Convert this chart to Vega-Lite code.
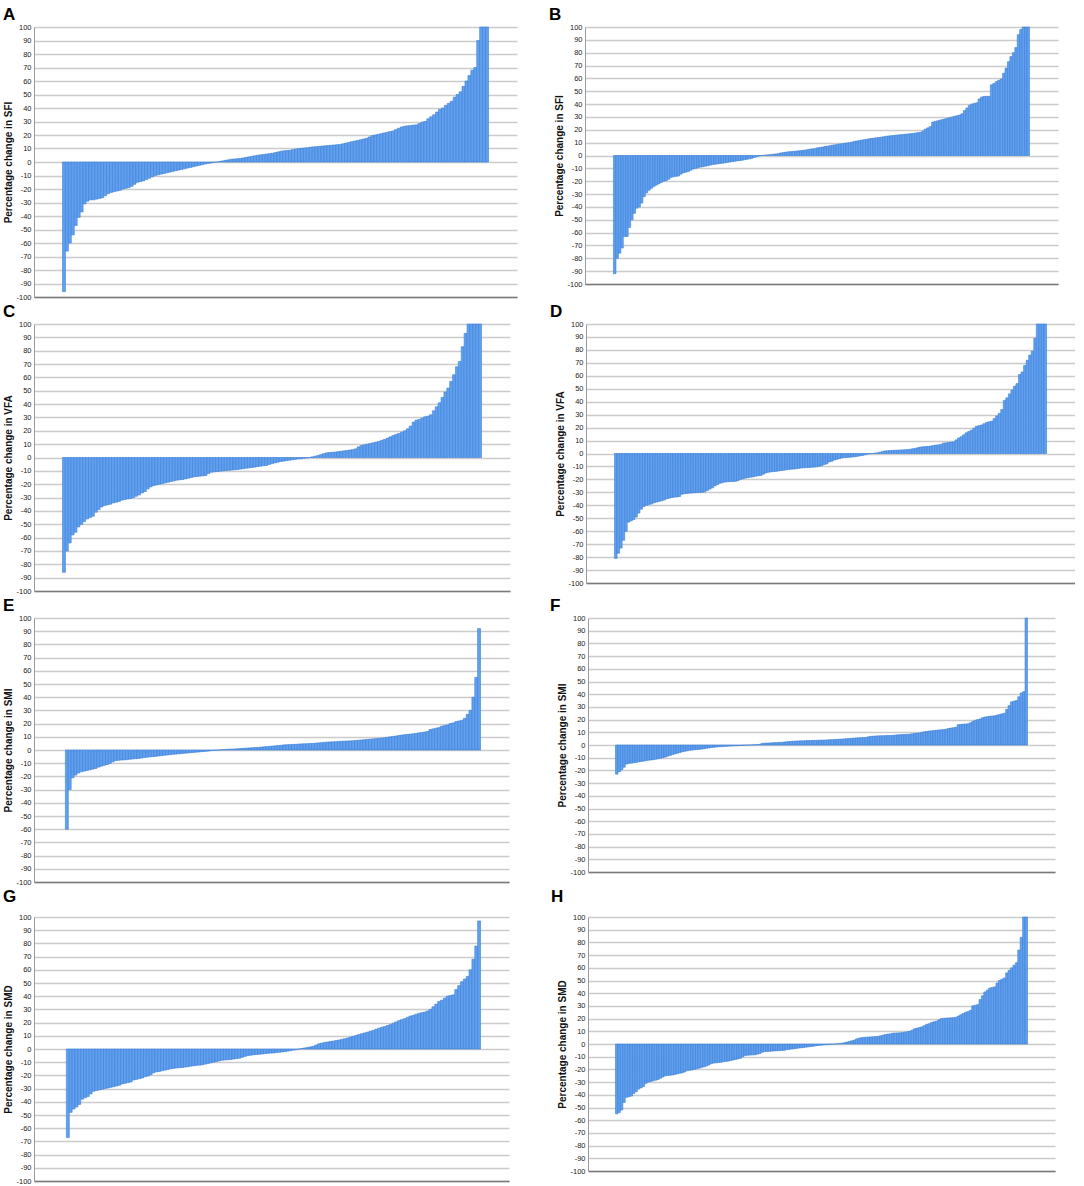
{
  "$schema": "https://vega.github.io/schema/vega-lite/v6.json",
  "padding": {"left": 3, "top": 6, "right": 0, "bottom": 0},
  "spacing": 2,
  "datasets": {
    "A": [{"i":0,"v":-96},{"i":1,"v":-66},{"i":2,"v":-60},{"i":3,"v":-54},{"i":4,"v":-47},{"i":5,"v":-41},{"i":6,"v":-37},{"i":7,"v":-31},{"i":8,"v":-29},{"i":9,"v":-28},{"i":10,"v":-28},{"i":11,"v":-27.5},{"i":12,"v":-27},{"i":13,"v":-26.5},{"i":14,"v":-25},{"i":15,"v":-23.5},{"i":16,"v":-22.5},{"i":17,"v":-22},{"i":18,"v":-21.5},{"i":19,"v":-21},{"i":20,"v":-20},{"i":21,"v":-19.5},{"i":22,"v":-19},{"i":23,"v":-18},{"i":24,"v":-16.5},{"i":25,"v":-15},{"i":26,"v":-14.5},{"i":27,"v":-14},{"i":28,"v":-13},{"i":29,"v":-12},{"i":30,"v":-11},{"i":31,"v":-10},{"i":32,"v":-9.5},{"i":33,"v":-9},{"i":34,"v":-8.5},{"i":35,"v":-8},{"i":36,"v":-7.5},{"i":37,"v":-7},{"i":38,"v":-6.5},{"i":39,"v":-6},{"i":40,"v":-5.5},{"i":41,"v":-5},{"i":42,"v":-4.5},{"i":43,"v":-4},{"i":44,"v":-3.5},{"i":45,"v":-3},{"i":46,"v":-2.5},{"i":47,"v":-2},{"i":48,"v":-1.5},{"i":49,"v":-1.1},{"i":50,"v":-0.7},{"i":51,"v":-0.3},{"i":52,"v":0},{"i":53,"v":0.4},{"i":54,"v":0.8},{"i":55,"v":1.2},{"i":56,"v":1.6},{"i":57,"v":2},{"i":58,"v":2.2},{"i":59,"v":2.4},{"i":60,"v":2.6},{"i":61,"v":3},{"i":62,"v":3.4},{"i":63,"v":3.8},{"i":64,"v":4.2},{"i":65,"v":4.6},{"i":66,"v":5},{"i":67,"v":5.3},{"i":68,"v":5.6},{"i":69,"v":5.9},{"i":70,"v":6.2},{"i":71,"v":6.5},{"i":72,"v":7},{"i":73,"v":7.5},{"i":74,"v":8},{"i":75,"v":8.3},{"i":76,"v":8.5},{"i":77,"v":8.7},{"i":78,"v":9.2},{"i":79,"v":9.6},{"i":80,"v":10},{"i":81,"v":10.2},{"i":82,"v":10.4},{"i":83,"v":10.6},{"i":84,"v":11},{"i":85,"v":11.2},{"i":86,"v":11.4},{"i":87,"v":11.6},{"i":88,"v":11.8},{"i":89,"v":12},{"i":90,"v":12.2},{"i":91,"v":12.4},{"i":92,"v":12.6},{"i":93,"v":12.8},{"i":94,"v":13},{"i":95,"v":13.5},{"i":96,"v":14},{"i":97,"v":14.5},{"i":98,"v":15},{"i":99,"v":15.5},{"i":100,"v":16},{"i":101,"v":16.5},{"i":102,"v":17},{"i":103,"v":17.5},{"i":104,"v":18.5},{"i":105,"v":19.5},{"i":106,"v":20},{"i":107,"v":20.5},{"i":108,"v":21},{"i":109,"v":21.5},{"i":110,"v":22},{"i":111,"v":22.5},{"i":112,"v":23},{"i":113,"v":24},{"i":114,"v":25},{"i":115,"v":26},{"i":116,"v":26.5},{"i":117,"v":26.8},{"i":118,"v":27},{"i":119,"v":27.3},{"i":120,"v":27.5},{"i":121,"v":28.5},{"i":122,"v":29.5},{"i":123,"v":30},{"i":124,"v":32},{"i":125,"v":33.5},{"i":126,"v":35},{"i":127,"v":37},{"i":128,"v":39},{"i":129,"v":40},{"i":130,"v":42},{"i":131,"v":43.5},{"i":132,"v":45},{"i":133,"v":48},{"i":134,"v":50},{"i":135,"v":52},{"i":136,"v":56},{"i":137,"v":60},{"i":138,"v":64},{"i":139,"v":68},{"i":140,"v":70},{"i":141,"v":90},{"i":142,"v":100},{"i":143,"v":100},{"i":144,"v":100}],
    "B": [{"i":0,"v":-92},{"i":1,"v":-80},{"i":2,"v":-76},{"i":3,"v":-72},{"i":4,"v":-63},{"i":5,"v":-63},{"i":6,"v":-56},{"i":7,"v":-50},{"i":8,"v":-45},{"i":9,"v":-41},{"i":10,"v":-40},{"i":11,"v":-37},{"i":12,"v":-32},{"i":13,"v":-29},{"i":14,"v":-27},{"i":15,"v":-25.5},{"i":16,"v":-24},{"i":17,"v":-23},{"i":18,"v":-22},{"i":19,"v":-21},{"i":20,"v":-20},{"i":21,"v":-19.5},{"i":22,"v":-18.5},{"i":23,"v":-17},{"i":24,"v":-16.5},{"i":25,"v":-16.2},{"i":26,"v":-16},{"i":27,"v":-14.5},{"i":28,"v":-13.5},{"i":29,"v":-13},{"i":30,"v":-12.5},{"i":31,"v":-11.5},{"i":32,"v":-10.5},{"i":33,"v":-10},{"i":34,"v":-9.5},{"i":35,"v":-9},{"i":36,"v":-8.7},{"i":37,"v":-8.3},{"i":38,"v":-8},{"i":39,"v":-7.5},{"i":40,"v":-7},{"i":41,"v":-6.8},{"i":42,"v":-6.5},{"i":43,"v":-6.2},{"i":44,"v":-6},{"i":45,"v":-5.7},{"i":46,"v":-5.4},{"i":47,"v":-5.1},{"i":48,"v":-4.8},{"i":49,"v":-4.5},{"i":50,"v":-4.2},{"i":51,"v":-4},{"i":52,"v":-3.7},{"i":53,"v":-3.3},{"i":54,"v":-3},{"i":55,"v":-2.6},{"i":56,"v":-2.2},{"i":57,"v":-1.6},{"i":58,"v":-1},{"i":59,"v":-0.4},{"i":60,"v":0},{"i":61,"v":0.2},{"i":62,"v":0.4},{"i":63,"v":0.6},{"i":64,"v":0.8},{"i":65,"v":1},{"i":66,"v":1.2},{"i":67,"v":1.5},{"i":68,"v":2},{"i":69,"v":2.3},{"i":70,"v":2.6},{"i":71,"v":2.9},{"i":72,"v":3},{"i":73,"v":3.2},{"i":74,"v":3.4},{"i":75,"v":3.6},{"i":76,"v":3.8},{"i":77,"v":4},{"i":78,"v":4.3},{"i":79,"v":4.6},{"i":80,"v":5},{"i":81,"v":5.2},{"i":82,"v":5.5},{"i":83,"v":6},{"i":84,"v":6.3},{"i":85,"v":6.6},{"i":86,"v":7},{"i":87,"v":7.3},{"i":88,"v":7.6},{"i":89,"v":8},{"i":90,"v":8.3},{"i":91,"v":8.6},{"i":92,"v":9},{"i":93,"v":9.2},{"i":94,"v":9.5},{"i":95,"v":9.8},{"i":96,"v":10},{"i":97,"v":10.5},{"i":98,"v":11},{"i":99,"v":11.3},{"i":100,"v":11.6},{"i":101,"v":12},{"i":102,"v":12.3},{"i":103,"v":12.6},{"i":104,"v":13},{"i":105,"v":13.2},{"i":106,"v":13.5},{"i":107,"v":13.8},{"i":108,"v":14},{"i":109,"v":14.3},{"i":110,"v":14.6},{"i":111,"v":15},{"i":112,"v":15.2},{"i":113,"v":15.4},{"i":114,"v":15.6},{"i":115,"v":15.8},{"i":116,"v":16},{"i":117,"v":16.2},{"i":118,"v":16.4},{"i":119,"v":16.6},{"i":120,"v":16.8},{"i":121,"v":17},{"i":122,"v":17.2},{"i":123,"v":17.5},{"i":124,"v":17.8},{"i":125,"v":18},{"i":126,"v":19},{"i":127,"v":20.5},{"i":128,"v":21.5},{"i":129,"v":22.5},{"i":130,"v":26},{"i":131,"v":26.5},{"i":132,"v":27},{"i":133,"v":27.5},{"i":134,"v":28},{"i":135,"v":28.5},{"i":136,"v":29},{"i":137,"v":29.5},{"i":138,"v":30},{"i":139,"v":30.5},{"i":140,"v":31},{"i":141,"v":31.5},{"i":142,"v":32.5},{"i":143,"v":35},{"i":144,"v":37},{"i":145,"v":39},{"i":146,"v":40},{"i":147,"v":40.5},{"i":148,"v":41},{"i":149,"v":44},{"i":150,"v":45.5},{"i":151,"v":46},{"i":152,"v":46},{"i":153,"v":46},{"i":154,"v":55},{"i":155,"v":56},{"i":156,"v":57.5},{"i":157,"v":58.5},{"i":158,"v":59.5},{"i":159,"v":64},{"i":160,"v":68},{"i":161,"v":73},{"i":162,"v":77},{"i":163,"v":80},{"i":164,"v":84},{"i":165,"v":94},{"i":166,"v":98},{"i":167,"v":100},{"i":168,"v":100},{"i":169,"v":100}],
    "C": [{"i":0,"v":-86},{"i":1,"v":-70},{"i":2,"v":-64},{"i":3,"v":-58},{"i":4,"v":-56},{"i":5,"v":-52},{"i":6,"v":-50},{"i":7,"v":-48},{"i":8,"v":-46},{"i":9,"v":-45},{"i":10,"v":-44},{"i":11,"v":-41},{"i":12,"v":-39},{"i":13,"v":-37},{"i":14,"v":-36},{"i":15,"v":-35.5},{"i":16,"v":-35},{"i":17,"v":-34},{"i":18,"v":-33.5},{"i":19,"v":-33},{"i":20,"v":-32},{"i":21,"v":-31.5},{"i":22,"v":-31},{"i":23,"v":-30.7},{"i":24,"v":-30},{"i":25,"v":-29},{"i":26,"v":-28},{"i":27,"v":-26.5},{"i":28,"v":-25.5},{"i":29,"v":-23.5},{"i":30,"v":-22},{"i":31,"v":-21},{"i":32,"v":-20.5},{"i":33,"v":-20},{"i":34,"v":-19.5},{"i":35,"v":-19},{"i":36,"v":-18.5},{"i":37,"v":-18},{"i":38,"v":-17.5},{"i":39,"v":-17},{"i":40,"v":-16.7},{"i":41,"v":-16.5},{"i":42,"v":-16},{"i":43,"v":-15.5},{"i":44,"v":-15},{"i":45,"v":-14.5},{"i":46,"v":-14.2},{"i":47,"v":-14},{"i":48,"v":-13.7},{"i":49,"v":-13.5},{"i":50,"v":-12},{"i":51,"v":-11},{"i":52,"v":-10.7},{"i":53,"v":-10.5},{"i":54,"v":-10.2},{"i":55,"v":-10},{"i":56,"v":-9.8},{"i":57,"v":-9.6},{"i":58,"v":-9.4},{"i":59,"v":-9.2},{"i":60,"v":-9},{"i":61,"v":-8.7},{"i":62,"v":-8.4},{"i":63,"v":-8},{"i":64,"v":-7.8},{"i":65,"v":-7.5},{"i":66,"v":-7.2},{"i":67,"v":-6.8},{"i":68,"v":-6.5},{"i":69,"v":-6.2},{"i":70,"v":-6},{"i":71,"v":-5.2},{"i":72,"v":-4.6},{"i":73,"v":-4},{"i":74,"v":-3.5},{"i":75,"v":-3},{"i":76,"v":-2.7},{"i":77,"v":-2.4},{"i":78,"v":-2},{"i":79,"v":-1.7},{"i":80,"v":-1.4},{"i":81,"v":-1.1},{"i":82,"v":-1},{"i":83,"v":-0.6},{"i":84,"v":-0.3},{"i":85,"v":0},{"i":86,"v":0.5},{"i":87,"v":1},{"i":88,"v":1.5},{"i":89,"v":2.2},{"i":90,"v":2.9},{"i":91,"v":3.5},{"i":92,"v":3.7},{"i":93,"v":3.9},{"i":94,"v":4.1},{"i":95,"v":4.4},{"i":96,"v":4.7},{"i":97,"v":5},{"i":98,"v":5.3},{"i":99,"v":5.6},{"i":100,"v":5.9},{"i":101,"v":6.5},{"i":102,"v":8},{"i":103,"v":9},{"i":104,"v":9.5},{"i":105,"v":10},{"i":106,"v":10.5},{"i":107,"v":11},{"i":108,"v":11.5},{"i":109,"v":12},{"i":110,"v":12.8},{"i":111,"v":13.5},{"i":112,"v":14.5},{"i":113,"v":15.5},{"i":114,"v":16.5},{"i":115,"v":17.3},{"i":116,"v":18},{"i":117,"v":19},{"i":118,"v":20},{"i":119,"v":21.5},{"i":120,"v":23.5},{"i":121,"v":26.5},{"i":122,"v":28},{"i":123,"v":28.5},{"i":124,"v":29.5},{"i":125,"v":30.5},{"i":126,"v":31},{"i":127,"v":32},{"i":128,"v":35},{"i":129,"v":38},{"i":130,"v":41},{"i":131,"v":45},{"i":132,"v":49},{"i":133,"v":52},{"i":134,"v":57},{"i":135,"v":62},{"i":136,"v":68},{"i":137,"v":72},{"i":138,"v":83},{"i":139,"v":93},{"i":140,"v":100},{"i":141,"v":100},{"i":142,"v":100},{"i":143,"v":100},{"i":144,"v":100}],
    "D": [{"i":0,"v":-81},{"i":1,"v":-77},{"i":2,"v":-73},{"i":3,"v":-67},{"i":4,"v":-60},{"i":5,"v":-53},{"i":6,"v":-52},{"i":7,"v":-51},{"i":8,"v":-49},{"i":9,"v":-46},{"i":10,"v":-43},{"i":11,"v":-41},{"i":12,"v":-40},{"i":13,"v":-39.5},{"i":14,"v":-39},{"i":15,"v":-38},{"i":16,"v":-37.5},{"i":17,"v":-37},{"i":18,"v":-36.5},{"i":19,"v":-36},{"i":20,"v":-35},{"i":21,"v":-34.5},{"i":22,"v":-34},{"i":23,"v":-33.7},{"i":24,"v":-33.5},{"i":25,"v":-33.2},{"i":26,"v":-31.5},{"i":27,"v":-31},{"i":28,"v":-30.8},{"i":29,"v":-30.6},{"i":30,"v":-30.5},{"i":31,"v":-30.3},{"i":32,"v":-30.2},{"i":33,"v":-30},{"i":34,"v":-30},{"i":35,"v":-29.5},{"i":36,"v":-28.5},{"i":37,"v":-27.5},{"i":38,"v":-26.5},{"i":39,"v":-25},{"i":40,"v":-24},{"i":41,"v":-23},{"i":42,"v":-22.5},{"i":43,"v":-22},{"i":44,"v":-21.8},{"i":45,"v":-21.7},{"i":46,"v":-21.6},{"i":47,"v":-21.5},{"i":48,"v":-21},{"i":49,"v":-20},{"i":50,"v":-19.5},{"i":51,"v":-19},{"i":52,"v":-18.6},{"i":53,"v":-18.3},{"i":54,"v":-18},{"i":55,"v":-17.5},{"i":56,"v":-17.2},{"i":57,"v":-17},{"i":58,"v":-16},{"i":59,"v":-15},{"i":60,"v":-14.5},{"i":61,"v":-14.2},{"i":62,"v":-14},{"i":63,"v":-13.8},{"i":64,"v":-13.5},{"i":65,"v":-13.2},{"i":66,"v":-13},{"i":67,"v":-12.6},{"i":68,"v":-12.3},{"i":69,"v":-12.1},{"i":70,"v":-12},{"i":71,"v":-11.8},{"i":72,"v":-11.5},{"i":73,"v":-11.2},{"i":74,"v":-11},{"i":75,"v":-10.9},{"i":76,"v":-10.8},{"i":77,"v":-10.6},{"i":78,"v":-10.5},{"i":79,"v":-10.2},{"i":80,"v":-9.8},{"i":81,"v":-9.5},{"i":82,"v":-8.5},{"i":83,"v":-8},{"i":84,"v":-6.5},{"i":85,"v":-6},{"i":86,"v":-5},{"i":87,"v":-4.5},{"i":88,"v":-4},{"i":89,"v":-3.5},{"i":90,"v":-3.2},{"i":91,"v":-3},{"i":92,"v":-2.9},{"i":93,"v":-2.7},{"i":94,"v":-2.5},{"i":95,"v":-2.2},{"i":96,"v":-1.8},{"i":97,"v":-1.5},{"i":98,"v":-1},{"i":99,"v":-0.5},{"i":100,"v":-0.2},{"i":101,"v":0},{"i":102,"v":0.3},{"i":103,"v":0.6},{"i":104,"v":1},{"i":105,"v":1.5},{"i":106,"v":2},{"i":107,"v":2.1},{"i":108,"v":2.3},{"i":109,"v":2.4},{"i":110,"v":2.5},{"i":111,"v":2.6},{"i":112,"v":2.7},{"i":113,"v":2.8},{"i":114,"v":2.9},{"i":115,"v":3},{"i":116,"v":3.3},{"i":117,"v":3.7},{"i":118,"v":4},{"i":119,"v":4.5},{"i":120,"v":5},{"i":121,"v":5.2},{"i":122,"v":5.4},{"i":123,"v":5.5},{"i":124,"v":5.8},{"i":125,"v":6.2},{"i":126,"v":6.5},{"i":127,"v":6.7},{"i":128,"v":7},{"i":129,"v":8},{"i":130,"v":8.2},{"i":131,"v":8.5},{"i":132,"v":8.8},{"i":133,"v":9},{"i":134,"v":10.5},{"i":135,"v":12},{"i":136,"v":13},{"i":137,"v":14.5},{"i":138,"v":16},{"i":139,"v":17},{"i":140,"v":18},{"i":141,"v":19.5},{"i":142,"v":21},{"i":143,"v":21.5},{"i":144,"v":22},{"i":145,"v":23},{"i":146,"v":24},{"i":147,"v":24.5},{"i":148,"v":25},{"i":149,"v":27},{"i":150,"v":29},{"i":151,"v":31},{"i":152,"v":34},{"i":153,"v":41},{"i":154,"v":43},{"i":155,"v":46},{"i":156,"v":49},{"i":157,"v":52},{"i":158,"v":54},{"i":159,"v":61},{"i":160,"v":63},{"i":161,"v":68},{"i":162,"v":72},{"i":163,"v":76},{"i":164,"v":79},{"i":165,"v":89},{"i":166,"v":100},{"i":167,"v":100},{"i":168,"v":100},{"i":169,"v":100}],
    "E": [{"i":0,"v":-60},{"i":1,"v":-30},{"i":2,"v":-21},{"i":3,"v":-19},{"i":4,"v":-17.5},{"i":5,"v":-16.5},{"i":6,"v":-16},{"i":7,"v":-15.5},{"i":8,"v":-15},{"i":9,"v":-14.5},{"i":10,"v":-14},{"i":11,"v":-13},{"i":12,"v":-12.3},{"i":13,"v":-11.6},{"i":14,"v":-11},{"i":15,"v":-10.2},{"i":16,"v":-9},{"i":17,"v":-8},{"i":18,"v":-7.8},{"i":19,"v":-7.6},{"i":20,"v":-7.5},{"i":21,"v":-7.3},{"i":22,"v":-7},{"i":23,"v":-6.8},{"i":24,"v":-6.6},{"i":25,"v":-6.4},{"i":26,"v":-6.1},{"i":27,"v":-5.8},{"i":28,"v":-5.5},{"i":29,"v":-5.2},{"i":30,"v":-5},{"i":31,"v":-4.8},{"i":32,"v":-4.5},{"i":33,"v":-4.3},{"i":34,"v":-4},{"i":35,"v":-3.8},{"i":36,"v":-3.5},{"i":37,"v":-3.3},{"i":38,"v":-3.1},{"i":39,"v":-2.9},{"i":40,"v":-2.7},{"i":41,"v":-2.5},{"i":42,"v":-2.3},{"i":43,"v":-2.1},{"i":44,"v":-1.9},{"i":45,"v":-1.7},{"i":46,"v":-1.5},{"i":47,"v":-1.3},{"i":48,"v":-1.1},{"i":49,"v":-0.9},{"i":50,"v":-0.6},{"i":51,"v":-0.4},{"i":52,"v":-0.2},{"i":53,"v":0},{"i":54,"v":0.2},{"i":55,"v":0.3},{"i":56,"v":0.5},{"i":57,"v":0.6},{"i":58,"v":0.7},{"i":59,"v":0.85},{"i":60,"v":1},{"i":61,"v":1.15},{"i":62,"v":1.3},{"i":63,"v":1.45},{"i":64,"v":1.6},{"i":65,"v":1.75},{"i":66,"v":1.9},{"i":67,"v":2},{"i":68,"v":2.2},{"i":69,"v":2.4},{"i":70,"v":2.6},{"i":71,"v":2.8},{"i":72,"v":3},{"i":73,"v":3.2},{"i":74,"v":3.4},{"i":75,"v":3.6},{"i":76,"v":3.9},{"i":77,"v":4},{"i":78,"v":4.1},{"i":79,"v":4.2},{"i":80,"v":4.3},{"i":81,"v":4.5},{"i":82,"v":4.6},{"i":83,"v":4.7},{"i":84,"v":4.8},{"i":85,"v":4.9},{"i":86,"v":5},{"i":87,"v":5.2},{"i":88,"v":5.4},{"i":89,"v":5.6},{"i":90,"v":5.8},{"i":91,"v":6},{"i":92,"v":6.1},{"i":93,"v":6.2},{"i":94,"v":6.3},{"i":95,"v":6.5},{"i":96,"v":6.6},{"i":97,"v":6.7},{"i":98,"v":6.8},{"i":99,"v":6.9},{"i":100,"v":7},{"i":101,"v":7.2},{"i":102,"v":7.4},{"i":103,"v":7.6},{"i":104,"v":7.8},{"i":105,"v":8},{"i":106,"v":8.2},{"i":107,"v":8.4},{"i":108,"v":8.6},{"i":109,"v":8.8},{"i":110,"v":9},{"i":111,"v":9.3},{"i":112,"v":9.6},{"i":113,"v":10},{"i":114,"v":10.3},{"i":115,"v":10.6},{"i":116,"v":11},{"i":117,"v":11.3},{"i":118,"v":11.6},{"i":119,"v":11.8},{"i":120,"v":12},{"i":121,"v":12.3},{"i":122,"v":12.6},{"i":123,"v":13},{"i":124,"v":13.3},{"i":125,"v":13.6},{"i":126,"v":14},{"i":127,"v":15.5},{"i":128,"v":16},{"i":129,"v":16.5},{"i":130,"v":17},{"i":131,"v":18},{"i":132,"v":18.5},{"i":133,"v":19},{"i":134,"v":20},{"i":135,"v":20.5},{"i":136,"v":21.5},{"i":137,"v":22},{"i":138,"v":22.5},{"i":139,"v":24},{"i":140,"v":27},{"i":141,"v":30},{"i":142,"v":40},{"i":143,"v":55},{"i":144,"v":92}],
    "F": [{"i":0,"v":-23},{"i":1,"v":-21},{"i":2,"v":-19.5},{"i":3,"v":-17.5},{"i":4,"v":-15},{"i":5,"v":-14.5},{"i":6,"v":-14.3},{"i":7,"v":-14},{"i":8,"v":-13.7},{"i":9,"v":-13.3},{"i":10,"v":-13},{"i":11,"v":-12.7},{"i":12,"v":-12.3},{"i":13,"v":-12},{"i":14,"v":-11.8},{"i":15,"v":-11.6},{"i":16,"v":-11.2},{"i":17,"v":-10.8},{"i":18,"v":-10.5},{"i":19,"v":-10},{"i":20,"v":-9.5},{"i":21,"v":-8.8},{"i":22,"v":-8.2},{"i":23,"v":-7.6},{"i":24,"v":-7},{"i":25,"v":-6.5},{"i":26,"v":-6},{"i":27,"v":-5.4},{"i":28,"v":-5},{"i":29,"v":-4.6},{"i":30,"v":-4.2},{"i":31,"v":-4},{"i":32,"v":-3.8},{"i":33,"v":-3.6},{"i":34,"v":-3.4},{"i":35,"v":-3.2},{"i":36,"v":-3},{"i":37,"v":-2.6},{"i":38,"v":-2.3},{"i":39,"v":-2},{"i":40,"v":-1.8},{"i":41,"v":-1.6},{"i":42,"v":-1.4},{"i":43,"v":-1.3},{"i":44,"v":-1.1},{"i":45,"v":-1},{"i":46,"v":-0.9},{"i":47,"v":-0.8},{"i":48,"v":-0.7},{"i":49,"v":-0.6},{"i":50,"v":-0.5},{"i":51,"v":-0.4},{"i":52,"v":-0.3},{"i":53,"v":-0.2},{"i":54,"v":-0.1},{"i":55,"v":0},{"i":56,"v":0.1},{"i":57,"v":0.2},{"i":58,"v":0.3},{"i":59,"v":0.5},{"i":60,"v":1.2},{"i":61,"v":1.4},{"i":62,"v":1.5},{"i":63,"v":1.6},{"i":64,"v":1.7},{"i":65,"v":1.8},{"i":66,"v":1.9},{"i":67,"v":2},{"i":68,"v":2.1},{"i":69,"v":2.3},{"i":70,"v":2.5},{"i":71,"v":2.7},{"i":72,"v":2.8},{"i":73,"v":3},{"i":74,"v":3.1},{"i":75,"v":3.2},{"i":76,"v":3.3},{"i":77,"v":3.3},{"i":78,"v":3.4},{"i":79,"v":3.5},{"i":80,"v":3.5},{"i":81,"v":3.6},{"i":82,"v":3.6},{"i":83,"v":3.7},{"i":84,"v":3.8},{"i":85,"v":3.8},{"i":86,"v":3.9},{"i":87,"v":4},{"i":88,"v":4.1},{"i":89,"v":4.2},{"i":90,"v":4.3},{"i":91,"v":4.4},{"i":92,"v":4.6},{"i":93,"v":4.7},{"i":94,"v":4.8},{"i":95,"v":5},{"i":96,"v":5.1},{"i":97,"v":5.3},{"i":98,"v":5.4},{"i":99,"v":5.6},{"i":100,"v":5.7},{"i":101,"v":5.8},{"i":102,"v":5.9},{"i":103,"v":6},{"i":104,"v":6.5},{"i":105,"v":6.8},{"i":106,"v":7},{"i":107,"v":7.1},{"i":108,"v":7.2},{"i":109,"v":7.3},{"i":110,"v":7.3},{"i":111,"v":7.4},{"i":112,"v":7.5},{"i":113,"v":7.5},{"i":114,"v":7.6},{"i":115,"v":7.8},{"i":116,"v":8},{"i":117,"v":8.1},{"i":118,"v":8.2},{"i":119,"v":8.3},{"i":120,"v":8.4},{"i":121,"v":8.5},{"i":122,"v":8.8},{"i":123,"v":9.1},{"i":124,"v":9.3},{"i":125,"v":9.5},{"i":126,"v":10},{"i":127,"v":10.4},{"i":128,"v":10.7},{"i":129,"v":11},{"i":130,"v":11.2},{"i":131,"v":11.4},{"i":132,"v":11.6},{"i":133,"v":11.8},{"i":134,"v":12},{"i":135,"v":12.1},{"i":136,"v":12.5},{"i":137,"v":13},{"i":138,"v":13.3},{"i":139,"v":13.6},{"i":140,"v":14},{"i":141,"v":16},{"i":142,"v":16.2},{"i":143,"v":16.4},{"i":144,"v":16.5},{"i":145,"v":16.7},{"i":146,"v":17.5},{"i":147,"v":18.5},{"i":148,"v":19.5},{"i":149,"v":20},{"i":150,"v":20.5},{"i":151,"v":21.5},{"i":152,"v":22},{"i":153,"v":22.3},{"i":154,"v":22.6},{"i":155,"v":22.8},{"i":156,"v":23},{"i":157,"v":23.5},{"i":158,"v":24},{"i":159,"v":24.5},{"i":160,"v":25},{"i":161,"v":28},{"i":162,"v":31},{"i":163,"v":34},{"i":164,"v":34.5},{"i":165,"v":35},{"i":166,"v":38},{"i":167,"v":41},{"i":168,"v":42},{"i":169,"v":100}],
    "G": [{"i":0,"v":-67},{"i":1,"v":-48},{"i":2,"v":-45.5},{"i":3,"v":-44},{"i":4,"v":-42},{"i":5,"v":-38},{"i":6,"v":-37},{"i":7,"v":-36},{"i":8,"v":-34},{"i":9,"v":-32},{"i":10,"v":-31.5},{"i":11,"v":-31},{"i":12,"v":-30.5},{"i":13,"v":-30},{"i":14,"v":-29.5},{"i":15,"v":-29},{"i":16,"v":-28.5},{"i":17,"v":-28},{"i":18,"v":-27.5},{"i":19,"v":-26.5},{"i":20,"v":-26},{"i":21,"v":-25.5},{"i":22,"v":-25},{"i":23,"v":-23.5},{"i":24,"v":-23},{"i":25,"v":-22.5},{"i":26,"v":-22},{"i":27,"v":-21},{"i":28,"v":-20.5},{"i":29,"v":-19.5},{"i":30,"v":-18},{"i":31,"v":-17.3},{"i":32,"v":-17},{"i":33,"v":-16.5},{"i":34,"v":-16},{"i":35,"v":-15.5},{"i":36,"v":-15},{"i":37,"v":-14.7},{"i":38,"v":-14.4},{"i":39,"v":-14.2},{"i":40,"v":-14},{"i":41,"v":-13.7},{"i":42,"v":-13.4},{"i":43,"v":-13},{"i":44,"v":-12.7},{"i":45,"v":-12.4},{"i":46,"v":-12.2},{"i":47,"v":-12},{"i":48,"v":-11.5},{"i":49,"v":-11},{"i":50,"v":-10.5},{"i":51,"v":-10},{"i":52,"v":-9.5},{"i":53,"v":-9},{"i":54,"v":-8.5},{"i":55,"v":-8.3},{"i":56,"v":-8.1},{"i":57,"v":-8},{"i":58,"v":-7.6},{"i":59,"v":-7.3},{"i":60,"v":-7},{"i":61,"v":-6.3},{"i":62,"v":-5.6},{"i":63,"v":-5},{"i":64,"v":-4.7},{"i":65,"v":-4.4},{"i":66,"v":-4.2},{"i":67,"v":-4},{"i":68,"v":-3.8},{"i":69,"v":-3.5},{"i":70,"v":-3.3},{"i":71,"v":-3.1},{"i":72,"v":-3},{"i":73,"v":-2.7},{"i":74,"v":-2.5},{"i":75,"v":-2.2},{"i":76,"v":-2},{"i":77,"v":-1.6},{"i":78,"v":-1.2},{"i":79,"v":-0.8},{"i":80,"v":-0.5},{"i":81,"v":0},{"i":82,"v":0.4},{"i":83,"v":0.8},{"i":84,"v":1.2},{"i":85,"v":1.6},{"i":86,"v":2},{"i":87,"v":3},{"i":88,"v":4},{"i":89,"v":4.5},{"i":90,"v":5},{"i":91,"v":5.3},{"i":92,"v":5.7},{"i":93,"v":6},{"i":94,"v":6.5},{"i":95,"v":6.8},{"i":96,"v":7.3},{"i":97,"v":7.8},{"i":98,"v":8.3},{"i":99,"v":9},{"i":100,"v":9.6},{"i":101,"v":10.3},{"i":102,"v":11},{"i":103,"v":11.6},{"i":104,"v":12.2},{"i":105,"v":12.8},{"i":106,"v":13.5},{"i":107,"v":14.2},{"i":108,"v":15},{"i":109,"v":15.8},{"i":110,"v":16.5},{"i":111,"v":17},{"i":112,"v":17.8},{"i":113,"v":18.5},{"i":114,"v":19.5},{"i":115,"v":20.5},{"i":116,"v":21.5},{"i":117,"v":22.3},{"i":118,"v":23},{"i":119,"v":24},{"i":120,"v":25},{"i":121,"v":25.5},{"i":122,"v":26.3},{"i":123,"v":27},{"i":124,"v":27.5},{"i":125,"v":28},{"i":126,"v":28.8},{"i":127,"v":30},{"i":128,"v":32},{"i":129,"v":34},{"i":130,"v":36},{"i":131,"v":37},{"i":132,"v":38.5},{"i":133,"v":40},{"i":134,"v":40.5},{"i":135,"v":41},{"i":136,"v":45},{"i":137,"v":48},{"i":138,"v":51},{"i":139,"v":53},{"i":140,"v":55},{"i":141,"v":60},{"i":142,"v":68},{"i":143,"v":78},{"i":144,"v":97}],
    "H": [{"i":0,"v":-55},{"i":1,"v":-54},{"i":2,"v":-52},{"i":3,"v":-46},{"i":4,"v":-42},{"i":5,"v":-41.5},{"i":6,"v":-41},{"i":7,"v":-39},{"i":8,"v":-37.5},{"i":9,"v":-35.5},{"i":10,"v":-34.5},{"i":11,"v":-33.5},{"i":12,"v":-31},{"i":13,"v":-30},{"i":14,"v":-29.5},{"i":15,"v":-29},{"i":16,"v":-28.5},{"i":17,"v":-28},{"i":18,"v":-27},{"i":19,"v":-26},{"i":20,"v":-25},{"i":21,"v":-24.8},{"i":22,"v":-24.6},{"i":23,"v":-24.4},{"i":24,"v":-24},{"i":25,"v":-23.5},{"i":26,"v":-23},{"i":27,"v":-22.7},{"i":28,"v":-22},{"i":29,"v":-21},{"i":30,"v":-20.7},{"i":31,"v":-20.4},{"i":32,"v":-20},{"i":33,"v":-19.5},{"i":34,"v":-19},{"i":35,"v":-18.4},{"i":36,"v":-18},{"i":37,"v":-17.3},{"i":38,"v":-16.5},{"i":39,"v":-15.5},{"i":40,"v":-15},{"i":41,"v":-14.8},{"i":42,"v":-14.6},{"i":43,"v":-14.4},{"i":44,"v":-14},{"i":45,"v":-13.7},{"i":46,"v":-13.5},{"i":47,"v":-13},{"i":48,"v":-12.6},{"i":49,"v":-12.2},{"i":50,"v":-11.7},{"i":51,"v":-11.2},{"i":52,"v":-10},{"i":53,"v":-9},{"i":54,"v":-8.8},{"i":55,"v":-8.7},{"i":56,"v":-8.6},{"i":57,"v":-8.5},{"i":58,"v":-8},{"i":59,"v":-7.5},{"i":60,"v":-6.5},{"i":61,"v":-6},{"i":62,"v":-5.9},{"i":63,"v":-5.8},{"i":64,"v":-5.6},{"i":65,"v":-5.5},{"i":66,"v":-5.3},{"i":67,"v":-5.2},{"i":68,"v":-5.1},{"i":69,"v":-5},{"i":70,"v":-4.5},{"i":71,"v":-4.2},{"i":72,"v":-4},{"i":73,"v":-3.8},{"i":74,"v":-3.5},{"i":75,"v":-3.2},{"i":76,"v":-3},{"i":77,"v":-2.8},{"i":78,"v":-2.5},{"i":79,"v":-2.3},{"i":80,"v":-2},{"i":81,"v":-1.8},{"i":82,"v":-1.5},{"i":83,"v":-1.2},{"i":84,"v":-1},{"i":85,"v":-0.8},{"i":86,"v":-0.6},{"i":87,"v":-0.5},{"i":88,"v":-0.3},{"i":89,"v":-0.2},{"i":90,"v":0},{"i":91,"v":0.2},{"i":92,"v":0.4},{"i":93,"v":0.6},{"i":94,"v":1},{"i":95,"v":1.5},{"i":96,"v":2},{"i":97,"v":2.5},{"i":98,"v":3},{"i":99,"v":4},{"i":100,"v":4.5},{"i":101,"v":5},{"i":102,"v":5.2},{"i":103,"v":5.4},{"i":104,"v":5.5},{"i":105,"v":5.6},{"i":106,"v":5.7},{"i":107,"v":5.9},{"i":108,"v":6},{"i":109,"v":6.5},{"i":110,"v":7},{"i":111,"v":7.5},{"i":112,"v":7.8},{"i":113,"v":8},{"i":114,"v":8.5},{"i":115,"v":8.6},{"i":116,"v":8.7},{"i":117,"v":8.8},{"i":118,"v":9},{"i":119,"v":9.3},{"i":120,"v":9.7},{"i":121,"v":10},{"i":122,"v":11},{"i":123,"v":12},{"i":124,"v":12.5},{"i":125,"v":13},{"i":126,"v":13.5},{"i":127,"v":14.5},{"i":128,"v":15.5},{"i":129,"v":16},{"i":130,"v":17},{"i":131,"v":17.5},{"i":132,"v":18},{"i":133,"v":19},{"i":134,"v":20},{"i":135,"v":20.2},{"i":136,"v":20.4},{"i":137,"v":20.5},{"i":138,"v":20.6},{"i":139,"v":20.8},{"i":140,"v":21},{"i":141,"v":22},{"i":142,"v":23},{"i":143,"v":24},{"i":144,"v":25},{"i":145,"v":25.5},{"i":146,"v":26.5},{"i":147,"v":30},{"i":148,"v":30.5},{"i":149,"v":31},{"i":150,"v":35},{"i":151,"v":38},{"i":152,"v":41},{"i":153,"v":42.5},{"i":154,"v":44},{"i":155,"v":44.5},{"i":156,"v":45},{"i":157,"v":48},{"i":158,"v":50},{"i":159,"v":51},{"i":160,"v":52},{"i":161,"v":56},{"i":162,"v":58},{"i":163,"v":60},{"i":164,"v":62},{"i":165,"v":64},{"i":166,"v":74},{"i":167,"v":84},{"i":168,"v":100},{"i":169,"v":100}]
  },
  "vconcat": [
    {
      "spacing": 32,
      "hconcat": [
        {
          "data": {"name": "A"}, "width": 483, "height": 270,
          "title": {"text": "A"},
          "mark": {"type": "bar", "width": 3.0},
          "encoding": {
            "x": {"field": "i", "type": "quantitative", "title": null, "scale": {"domain": [-8.5, 152.5], "nice": false, "zero": false}},
            "y": {"field": "v", "type": "quantitative", "title": "Percentage change in SFI", "scale": {"domain": [-100, 100], "nice": false},
                  "axis": {"values": [-100, -90, -80, -70, -60, -50, -40, -30, -20, -10, 0, 10, 20, 30, 40, 50, 60, 70, 80, 90, 100], "labelExpr": "'' + datum.value", "labelOverlap": false}}
          }
        },
        {
          "data": {"name": "B"}, "width": 473, "height": 257,
          "title": {"text": "B", "dx": -5},
          "mark": {"type": "bar", "width": 2.5},
          "encoding": {
            "x": {"field": "i", "type": "quantitative", "title": null, "scale": {"domain": [-10.1, 179.1], "nice": false, "zero": false}},
            "y": {"field": "v", "type": "quantitative", "title": "Percentage change in SFI", "scale": {"domain": [-100, 100], "nice": false},
                  "axis": {"values": [-100, -90, -80, -70, -60, -50, -40, -30, -20, -10, 0, 10, 20, 30, 40, 50, 60, 70, 80, 90, 100], "labelExpr": "'' + datum.value", "labelOverlap": false}}
          }
        }
      ]
    },
    {
      "spacing": 40,
      "hconcat": [
        {
          "data": {"name": "C"}, "width": 476, "height": 267,
          "title": {"text": "C"},
          "mark": {"type": "bar", "width": 2.95},
          "encoding": {
            "x": {"field": "i", "type": "quantitative", "title": null, "scale": {"domain": [-8.63, 152.63], "nice": false, "zero": false}},
            "y": {"field": "v", "type": "quantitative", "title": "Percentage change in VFA", "scale": {"domain": [-100, 100], "nice": false},
                  "axis": {"values": [-100, -90, -80, -70, -60, -50, -40, -30, -20, -10, 0, 10, 20, 30, 40, 50, 60, 70, 80, 90, 100], "labelExpr": "'' + datum.value", "labelOverlap": false}}
          }
        },
        {
          "data": {"name": "D"}, "width": 489, "height": 259,
          "title": {"text": "D", "dx": -5},
          "mark": {"type": "bar", "width": 2.59},
          "encoding": {
            "x": {"field": "i", "type": "quantitative", "title": null, "scale": {"domain": [-9.75, 178.75], "nice": false, "zero": false}},
            "y": {"field": "v", "type": "quantitative", "title": "Percentage change in VFA", "scale": {"domain": [-100, 100], "nice": false},
                  "axis": {"values": [-100, -90, -80, -70, -60, -50, -40, -30, -20, -10, 0, 10, 20, 30, 40, 50, 60, 70, 80, 90, 100], "labelExpr": "'' + datum.value", "labelOverlap": false}}
          }
        }
      ]
    },
    {
      "spacing": 41,
      "hconcat": [
        {
          "data": {"name": "E"}, "width": 475, "height": 264,
          "title": {"text": "E"},
          "mark": {"type": "bar", "width": 2.92},
          "encoding": {
            "x": {"field": "i", "type": "quantitative", "title": null, "scale": {"domain": [-9.73, 152.71], "nice": false, "zero": false}},
            "y": {"field": "v", "type": "quantitative", "title": "Percentage change in SMI", "scale": {"domain": [-100, 100], "nice": false},
                  "axis": {"values": [-100, -90, -80, -70, -60, -50, -40, -30, -20, -10, 0, 10, 20, 30, 40, 50, 60, 70, 80, 90, 100], "labelExpr": "'' + datum.value", "labelOverlap": false}}
          }
        },
        {
          "data": {"name": "F"}, "width": 467, "height": 254,
          "title": {"text": "F", "dx": -7},
          "mark": {"type": "bar", "width": 2.48},
          "encoding": {
            "x": {"field": "i", "type": "quantitative", "title": null, "scale": {"domain": [-9.79, 178.79], "nice": false, "zero": false}},
            "y": {"field": "v", "type": "quantitative", "title": "Percentage change in SMI", "scale": {"domain": [-100, 100], "nice": false},
                  "axis": {"values": [-100, -90, -80, -70, -60, -50, -40, -30, -20, -10, 0, 10, 20, 30, 40, 50, 60, 70, 80, 90, 100], "labelExpr": "'' + datum.value", "labelOverlap": false}}
          }
        }
      ]
    },
    {
      "spacing": 42,
      "hconcat": [
        {
          "data": {"name": "G"}, "width": 475, "height": 264,
          "title": {"text": "G", "offset": 7},
          "mark": {"type": "bar", "width": 2.92},
          "encoding": {
            "x": {"field": "i", "type": "quantitative", "title": null, "scale": {"domain": [-10.1, 152.73], "nice": false, "zero": false}},
            "y": {"field": "v", "type": "quantitative", "title": "Percentage change in SMD", "scale": {"domain": [-100, 100], "nice": false},
                  "axis": {"values": [-100, -90, -80, -70, -60, -50, -40, -30, -20, -10, 0, 10, 20, 30, 40, 50, 60, 70, 80, 90, 100], "labelExpr": "'' + datum.value", "labelOverlap": false}}
          }
        },
        {
          "data": {"name": "H"}, "width": 467, "height": 254,
          "title": {"text": "H", "dx": -6, "offset": 7},
          "mark": {"type": "bar", "width": 2.48},
          "encoding": {
            "x": {"field": "i", "type": "quantitative", "title": null, "scale": {"domain": [-9.79, 178.79], "nice": false, "zero": false}},
            "y": {"field": "v", "type": "quantitative", "title": "Percentage change in SMD", "scale": {"domain": [-100, 100], "nice": false},
                  "axis": {"values": [-100, -90, -80, -70, -60, -50, -40, -30, -20, -10, 0, 10, 20, 30, 40, 50, 60, 70, 80, 90, 100], "labelExpr": "'' + datum.value", "labelOverlap": false}}
          }
        }
      ]
    }
  ],
  "config": {
    "font": "Liberation Sans",
    "view": {"stroke": null},
    "title": {"anchor": "start", "frame": "bounds", "fontSize": 17, "fontWeight": "bold", "color": "#000000", "baseline": "alphabetic", "offset": -1},
    "bar": {"fill": "#62a0ee", "stroke": "#3b7fd9", "strokeWidth": 0.6},
    "axisY": {
      "grid": true, "gridColor": "#cbcbcb", "gridWidth": 1.3,
      "domainColor": "#9a9a9a", "domainWidth": 1,
      "ticks": false, "labelPadding": 3,
      "labelFontSize": 7.5, "labelColor": "#222222",
      "titleFontSize": 10, "titleFontWeight": "bold", "titleColor": "#111111",
      "titleX": -26, "titleBaseline": "middle"
    },
    "axisX": {"labels": false, "ticks": false, "grid": false, "domainColor": "#7a7a7a", "domainWidth": 1.5}
  }
}
